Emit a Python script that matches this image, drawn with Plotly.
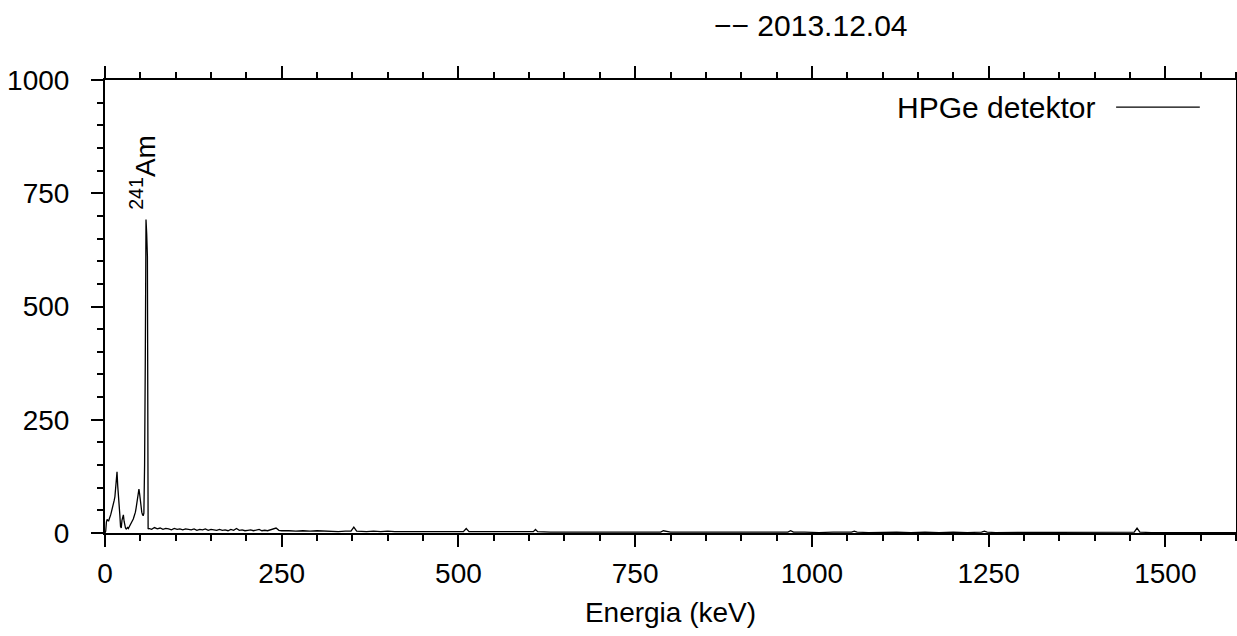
import plotly.graph_objects as go

# ---- data ----
energy_low = [0, 1, 2, 3, 4, 5, 6, 7, 8, 9, 10, 11, 12, 13, 14, 15, 16, 17, 18, 19,
              20, 21, 22, 23, 24, 25, 26, 27, 28, 29, 30, 31, 32, 33, 34, 35, 36, 37, 38, 39,
              40, 41, 42, 43, 44, 45, 46, 47, 48, 49, 50, 51, 52, 53, 54, 55, 56, 57, 58, 59,
              60, 61]
counts_low = [0, 4, 24, 30, 28, 26, 31, 34, 40, 46, 52, 58, 60, 72, 80, 96, 118, 135, 104, 72,
              52, 40, 14, 11, 28, 36, 40, 26, 14, 11, 9, 11, 12, 10, 13, 15, 17, 21, 24, 28,
              31, 36, 40, 46, 55, 66, 80, 90, 97, 86, 70, 60, 46, 41, 38, 44, 150, 380, 692, 660,
              610, 9]

energy_tail1 = [62, 66, 70, 74, 78, 82, 86, 90, 94, 98, 102, 106, 110, 114, 118, 122, 126, 130,
                134, 138, 142, 146, 150, 154, 158, 162, 166, 170, 174, 178, 182, 186, 190, 194,
                198, 202, 206, 210, 214, 218, 222, 226, 230, 234, 238, 242, 246, 250]
counts_tail1 = [10, 8, 12, 9, 11, 8, 10, 9, 7, 10, 8, 9, 7, 9, 8, 7, 9, 6,
                8, 7, 9, 6, 8, 7, 6, 8, 6, 7, 5, 8, 6, 10, 6, 7,
                5, 6, 7, 5, 6, 8, 5, 6, 5, 7, 9, 11, 6, 5]

energy_tail2 = [260, 270, 280, 290, 300, 310, 320, 330, 340, 348, 352, 356, 370, 380, 390, 400,
                410, 420, 430, 440, 450, 460, 470, 480, 490, 500, 507, 511, 515, 530, 540, 550,
                560, 570, 580, 590, 600, 606, 609, 612, 630, 640, 650, 660, 670, 680, 690, 700]
counts_tail2 = [5, 4, 5, 4, 5, 4, 4, 3, 4, 4, 13, 4, 3, 4, 3, 4,
                3, 3, 4, 3, 3, 4, 3, 3, 3, 4, 3, 10, 3, 3, 3, 2,
                3, 3, 2, 3, 3, 3, 8, 3, 2, 2, 3, 2, 2, 2, 3, 2]

energy_tail3 = [720, 740, 760, 780, 786, 790, 800, 820, 840, 860, 880, 900, 920, 940, 960,
                966, 970, 974, 990, 1010, 1030, 1050, 1056, 1060, 1064, 1080, 1100, 1120, 1140,
                1160, 1180, 1200, 1220, 1240, 1244, 1248, 1260, 1280, 1300, 1320, 1340, 1360,
                1380, 1400, 1420, 1440, 1456, 1460, 1464, 1480, 1500, 1520, 1540, 1560, 1580, 1600]
counts_tail3 = [2, 2, 2, 2, 2, 5, 2, 2, 2, 2, 1, 2, 2, 1, 2,
                2, 5, 2, 2, 1, 2, 2, 2, 4, 2, 1, 2, 2, 1,
                2, 1, 2, 1, 2, 4, 2, 1, 1, 1, 2, 1, 1,
                1, 1, 1, 1, 2, 11, 2, 1, 1, 1, 1, 1, 1, 1]

x_ticks = [0, 250, 500, 750, 1000, 1250, 1500]
y_ticks = [0, 250, 500, 750, 1000]

series_name = "HPGe detektor"
title_text = "−− 2013.12.04"
peak_label = "<sup>241</sup>Am"

energy = energy_low + energy_tail1 + energy_tail2 + energy_tail3
counts = counts_low + counts_tail1 + counts_tail2 + counts_tail3

FONT = "Liberation Sans, Arial, Helvetica, sans-serif"
FS = 28

fig = go.Figure()
fig.add_trace(go.Scatter(x=energy, y=counts, mode="lines", name=series_name,
                         line=dict(color="black", width=1.3), showlegend=False))

axis_common = dict(showline=True, linecolor="black", linewidth=2, mirror="allticks",
                   ticks="outside", ticklen=12, tickwidth=2, tickcolor="black",
                   showgrid=False, zeroline=False, automargin=False,
                   tickfont=dict(family=FONT, size=FS, color="black"))

fig.update_xaxes(range=[0, 1600], tickvals=x_ticks, ticktext=[str(v) for v in x_ticks],
                 ticklabelstandoff=2,
                 minor=dict(dtick=50, ticks="outside", ticklen=6, tickwidth=2, tickcolor="black",
                            showgrid=False),
                 title=dict(text="Energia (keV)", font=dict(family=FONT, size=FS, color="black"),
                            standoff=15),
                 **axis_common)
fig.update_yaxes(range=[0, 1000], tickvals=y_ticks, ticktext=[str(v) for v in y_ticks],
                 ticklabelstandoff=16,
                 minor=dict(dtick=50, ticks="outside", ticklen=6, tickwidth=2, tickcolor="black",
                            showgrid=False),
                 **axis_common)

# legend drawn manually (text to the left of the line sample)
fig.add_annotation(xref="paper", yref="paper", x=0.877, y=0.94, xanchor="right", yanchor="middle",
                   text=series_name, showarrow=False,
                   font=dict(family=FONT, size=30, color="black"))
fig.add_shape(type="line", xref="paper", yref="paper", x0=0.894, x1=0.968, y0=0.94, y1=0.94,
              line=dict(color="black", width=1.2))

# title
fig.add_annotation(xref="paper", yref="paper", x=0.624, y=1.121, xanchor="center", yanchor="middle",
                   text=title_text, showarrow=False,
                   font=dict(family=FONT, size=30, color="black"))

# peak label
fig.add_annotation(xref="x", yref="y", x=53.5, y=797, textangle=-90, text=peak_label,
                   showarrow=False, xanchor="center", yanchor="middle",
                   font=dict(family=FONT, size=28, color="black"))

fig.update_layout(width=1237, height=636, margin=dict(l=105, r=1, t=80, b=103),
                  paper_bgcolor="white", plot_bgcolor="white",
                  font=dict(family=FONT, size=FS, color="black"))

fig.write_html("out.html")
